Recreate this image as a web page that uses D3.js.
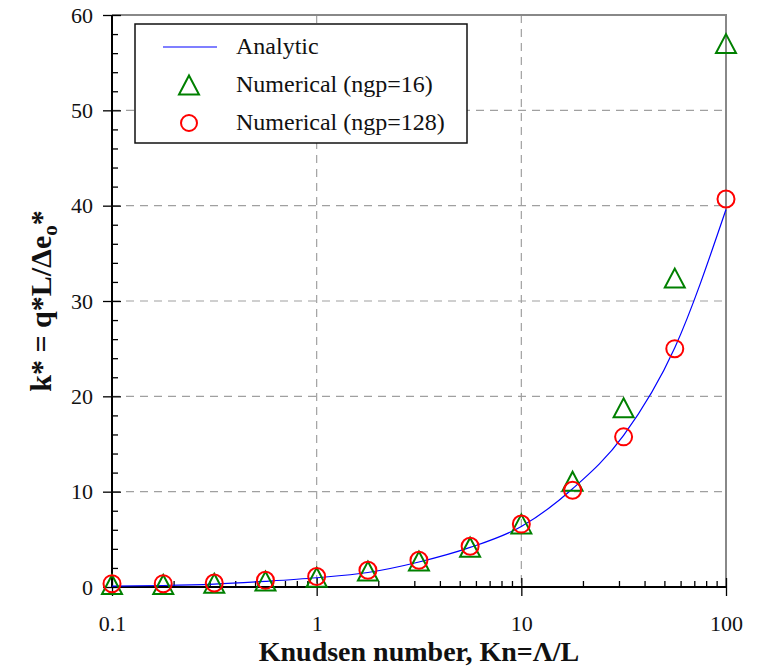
<!DOCTYPE html>
<html>
<head>
<meta charset="utf-8">
<script src="https://cdn.jsdelivr.net/npm/d3@7"></script>
<style>
  html, body { margin: 0; padding: 0; background: #fff; }
  svg { display: block; }
  svg text { font-family: "Liberation Serif", "Times New Roman", Times, "Noto Serif", "DejaVu Serif", FreeSerif, serif; }
</style>
</head>
<body>
<svg id="chart" width="761" height="669"></svg>
<script>
// Knudsen number sample points
const knValues = [0.1, 0.178, 0.316, 0.562, 1, 1.78, 3.16, 5.62, 10, 17.8, 31.6, 56.2, 100];
// Analytic solution k*
const analyticK = [0.1, 0.16, 0.31, 0.6, 0.97, 1.52, 2.62, 4.15, 6.35, 10.3, 15.9, 25.1, 39.6];
// Numerical solution, 16 grid points
const ngp16K = [0.27, 0.27, 0.39, 0.62, 1.02, 1.67, 2.72, 4.17, 6.62, 11.1, 18.8, 32.4, 57.0];
// Numerical solution, 128 grid points
const ngp128K = [0.35, 0.35, 0.42, 0.7, 1.1, 1.75, 2.8, 4.27, 6.6, 10.15, 15.75, 25.0, 40.7];

const xTicks = [0.1, 1, 10, 100];
const xTickLabels = ["0.1", "1", "10", "100"];
const yTicks = [0, 10, 20, 30, 40, 50, 60];
const legendLabels = ["Analytic", "Numerical (ngp=16)", "Numerical (ngp=128)"];

const serif = '"Liberation Serif", "Times New Roman", Times, "Noto Serif", "DejaVu Serif", FreeSerif, serif';
const svg = d3.select("#chart");
const plotLeft = 112, plotRight = 726, plotTop = 15, plotBottom = 587;

const x = d3.scaleLog().domain([0.1, 100]).range([plotLeft, plotRight]);
const y = d3.scaleLinear().domain([0, 60]).range([plotBottom, plotTop]);

// dashed grid at interior major ticks
const grid = svg.append("g").attr("stroke", "#a0a0a0").attr("stroke-width", 1.2)
  .attr("stroke-dasharray", "8,6");
grid.selectAll("line.gx").data(xTicks.slice(1, -1)).join("line").attr("class", "gx")
  .attr("x1", d => x(d)).attr("x2", d => x(d)).attr("y1", plotTop).attr("y2", plotBottom);
grid.selectAll("line.gy").data(yTicks.slice(1, -1)).join("line").attr("class", "gy")
  .attr("x1", plotLeft).attr("x2", plotRight).attr("y1", d => y(d)).attr("y2", d => y(d));

// top and right frame
svg.append("path")
  .attr("d", `M${plotLeft},${plotTop}H${plotRight}V${plotBottom}`)
  .attr("fill", "none").attr("stroke", "#888").attr("stroke-width", 2);

// y axis: major ticks cross the axis, minor ticks point inward
const yMinor = d3.range(0, 61, 2).filter(v => v % 10 !== 0);
const gy = svg.append("g").attr("transform", `translate(${plotLeft},0)`)
  .call(d3.axisLeft(y).tickValues(yTicks).tickSize(9).tickPadding(10).tickFormat(d3.format("d")));
gy.attr("font-family", null);
gy.select(".domain").remove();
gy.selectAll(".tick line").attr("x2", -9).attr("x1", 9).attr("stroke", "#000").attr("stroke-width", 1.3);
gy.selectAll(".tick text").attr("font-size", 22).attr("fill", "#111").style("font-family", serif);
const gyMinor = svg.append("g").attr("transform", `translate(${plotLeft},0)`)
  .call(d3.axisRight(y).tickValues(yMinor).tickSize(6).tickFormat(""));
gyMinor.select(".domain").remove();
gyMinor.selectAll(".tick line").attr("stroke", "#000").attr("stroke-width", 1.3);

// x axis: log decades with minor ticks
const xMinor = [];
[0.1, 1, 10].forEach(dec => { for (let m = 2; m <= 9; m++) xMinor.push(dec * m); });
const gx = svg.append("g").attr("transform", `translate(0,${plotBottom})`)
  .call(d3.axisBottom(x).tickValues(xTicks).tickSize(9).tickPadding(19)
    .tickFormat((d, i) => xTickLabels[i]));
gx.attr("font-family", null);
gx.select(".domain").remove();
gx.selectAll(".tick line").attr("y1", -9).attr("y2", 9).attr("stroke", "#000").attr("stroke-width", 1.3);
gx.selectAll(".tick text").attr("font-size", 22).attr("fill", "#111").style("font-family", serif);
const gxMinor = svg.append("g").attr("transform", `translate(0,${plotBottom})`)
  .call(d3.axisTop(x).tickValues(xMinor).tickSize(6).tickFormat(""));
gxMinor.select(".domain").remove();
gxMinor.selectAll(".tick line").attr("stroke", "#000").attr("stroke-width", 1.3);

// axis lines
svg.append("line").attr("x1", plotLeft).attr("x2", plotLeft).attr("y1", plotTop).attr("y2", plotBottom)
  .attr("stroke", "#000").attr("stroke-width", 2);
svg.append("line").attr("x1", plotLeft).attr("x2", plotRight).attr("y1", plotBottom).attr("y2", plotBottom)
  .attr("stroke", "#000").attr("stroke-width", 2);

// analytic curve
const line = d3.line().x(d => x(d[0])).y(d => y(d[1])).curve(d3.curveMonotoneX);
svg.append("path")
  .datum(knValues.map((k, i) => [k, analyticK[i]]))
  .attr("d", line).attr("fill", "none").attr("stroke", "#0000ff").attr("stroke-width", 1.2);

// open triangle marker centred on its bounding box
const triPath = (cx, cy) => {
  const h = 19, w = 20;
  return `M${cx},${cy - h / 2}L${cx + w / 2},${cy + h / 2}L${cx - w / 2},${cy + h / 2}Z`;
};

svg.append("g").selectAll("path")
  .data(knValues.map((k, i) => [k, ngp16K[i]]))
  .join("path")
  .attr("d", d => triPath(x(d[0]), y(d[1])))
  .attr("fill", "none").attr("stroke", "#008000").attr("stroke-width", 2);

svg.append("g").selectAll("circle")
  .data(knValues.map((k, i) => [k, ngp128K[i]]))
  .join("circle")
  .attr("cx", d => x(d[0])).attr("cy", d => y(d[1])).attr("r", 8.5)
  .attr("fill", "none").attr("stroke", "#ff0000").attr("stroke-width", 2);

// legend
const lg = svg.append("g");
lg.append("rect").attr("x", 135).attr("y", 24).attr("width", 332).attr("height", 119)
  .attr("fill", "#fff").attr("stroke", "#111").attr("stroke-width", 1.5);
const rowY = [47, 85, 123];
lg.append("line").attr("x1", 163).attr("x2", 217).attr("y1", rowY[0]).attr("y2", rowY[0])
  .attr("stroke", "#0000ff").attr("stroke-width", 1.2);
lg.append("path").attr("d", triPath(189, rowY[1])).attr("fill", "none")
  .attr("stroke", "#008000").attr("stroke-width", 2);
lg.append("circle").attr("cx", 189).attr("cy", rowY[2]).attr("r", 8)
  .attr("fill", "none").attr("stroke", "#ff0000").attr("stroke-width", 2);
lg.selectAll("text.lab").data(legendLabels).join("text").attr("class", "lab")
  .attr("x", 236).attr("y", (d, i) => rowY[i] + 7)
  .attr("font-size", 24).attr("fill", "#111").style("font-family", serif).text(d => d);

// axis titles
svg.append("text")
  .attr("x", (plotLeft + plotRight) / 2).attr("y", 661)
  .attr("text-anchor", "middle").attr("font-size", 28).attr("font-weight", "bold")
  .attr("fill", "#111").style("font-family", serif)
  .text("Knudsen number, Kn=\u039B/L");

const yt = svg.append("text")
  .attr("transform", `translate(51,${(plotTop + plotBottom) / 2}) rotate(-90)`)
  .attr("text-anchor", "middle").attr("font-size", 30).attr("font-weight", "bold")
  .attr("fill", "#111").style("font-family", serif);
yt.append("tspan").text("k* = q*L/\u0394e");
yt.append("tspan").attr("font-size", 21).attr("dy", 6).text("o");
yt.append("tspan").attr("dy", -6).text("*");
</script>
</body>
</html>
